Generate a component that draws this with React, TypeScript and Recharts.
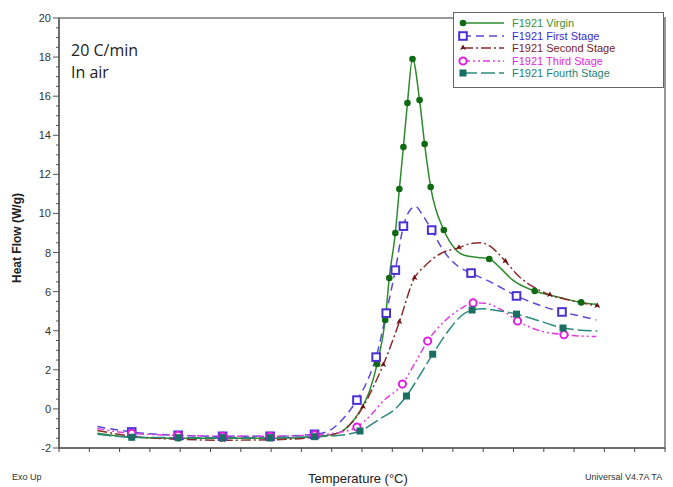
import React from 'react'
import { ComposedChart, Line, Scatter, XAxis, YAxis, ReferenceArea } from 'recharts'

// temperature (unlabelled axis, one tick every 30) vs heat flow (W/g)
const virginCurve = [
  [38, -1.25], [72, -1.45], [118, -1.5], [162, -1.5], [209, -1.5], [253, -1.42], [278, -1.2],
  [288, -0.8], [298, -0.1], [308, 1.0], [315, 2.3], [323, 4.55], [327, 6.7], [333, 9.0],
  [337, 11.25], [341, 13.4], [345, 15.65], [350, 17.9], [357, 15.8], [362, 13.55], [368, 11.35],
  [381, 9.15], [392, 8.2], [402, 7.85], [415, 7.75], [426, 7.67], [437, 7.2], [449, 6.6],
  [471, 6.03], [496, 5.7], [517, 5.45], [533, 5.35],
]
const virginMarks = [
  [72, -1.45], [118, -1.5], [162, -1.5], [209, -1.5], [253, -1.42], [315, 2.3], [323, 4.55],
  [327, 6.7], [333, 9.0], [337, 11.25], [341, 13.4], [345, 15.65], [350, 17.9], [357, 15.8],
  [362, 13.55], [368, 11.35], [381, 9.15], [426, 7.67], [471, 6.03], [517, 5.45],
]

const firstCurve = [
  [38, -0.9], [72, -1.18], [118, -1.35], [162, -1.4], [209, -1.4], [253, -1.3], [268, -1.1],
  [283, -0.4], [295, 0.45], [305, 1.4], [314, 2.65], [324, 4.9], [333, 7.1], [341, 9.35],
  [348, 10.2], [353, 10.35], [359, 10.0], [369, 9.15], [382, 8.0], [395, 7.3], [408, 6.95],
  [427, 6.5], [453, 5.78], [476, 5.3], [498, 4.96], [516, 4.75], [532, 4.55],
]
const firstMarks = [
  [72, -1.18], [118, -1.35], [162, -1.4], [209, -1.4], [253, -1.3], [295, 0.45], [314, 2.65],
  [324, 4.9], [333, 7.1], [341, 9.35], [369, 9.15], [408, 6.95], [453, 5.78], [498, 4.96],
]

const secondCurve = [
  [38, -1.1], [72, -1.4], [118, -1.55], [162, -1.6], [209, -1.58], [253, -1.45], [278, -1.2],
  [290, -0.7], [301, 0.1], [310, 1.0], [321, 2.25], [337, 4.45], [352, 6.7], [362, 7.3],
  [378, 7.95], [396, 8.25], [407, 8.45], [417, 8.5], [426, 8.35], [434, 8.0], [442, 7.55],
  [456, 6.75], [471, 6.2], [486, 5.83], [511, 5.5], [533, 5.27],
]
const secondMarks = [
  [72, -1.4], [118, -1.55], [162, -1.6], [209, -1.58], [253, -1.45], [301, 0.1], [321, 2.25],
  [337, 4.45], [352, 6.7], [396, 8.25], [442, 7.55], [486, 5.83], [533, 5.27],
]

const thirdCurve = [
  [38, -1.0], [72, -1.25], [118, -1.35], [162, -1.4], [209, -1.4], [253, -1.33], [278, -1.2],
  [295, -0.93], [308, -0.35], [321, 0.4], [340, 1.27], [352, 2.3], [365, 3.47], [382, 4.5],
  [397, 5.1], [410, 5.42], [422, 5.4], [437, 5.1], [454, 4.5], [476, 4.0], [500, 3.8], [532, 3.7],
]
const thirdMarks = [
  [72, -1.25], [118, -1.35], [162, -1.4], [209, -1.4], [253, -1.33], [295, -0.93], [340, 1.27],
  [365, 3.47], [410, 5.42], [454, 4.5], [500, 3.8],
]

const fourthCurve = [
  [38, -1.3], [72, -1.45], [118, -1.47], [162, -1.47], [209, -1.47], [253, -1.42], [278, -1.35],
  [298, -1.13], [318, -0.5], [333, 0.0], [344, 0.66], [357, 1.7], [370, 2.8], [387, 4.1],
  [397, 4.7], [409, 5.06], [420, 5.12], [432, 5.05], [453, 4.85], [476, 4.5], [499, 4.14], [533, 3.98],
]
const fourthMarks = [
  [72, -1.45], [118, -1.47], [162, -1.47], [209, -1.47], [253, -1.42], [298, -1.13], [344, 0.66],
  [370, 2.8], [409, 5.06], [453, 4.85], [499, 4.14],
]

const seriesNames = ['F1921 Virgin', 'F1921 First Stage', 'F1921 Second Stage', 'F1921 Third Stage', 'F1921 Fourth Stage']
const xTicks = [0, 30, 60, 90, 120, 150, 180, 210, 240, 270, 300, 330, 360, 390, 420, 450, 480, 510, 540, 570, 600]
const yLabels = [-2, 0, 2, 4, 6, 8, 10, 12, 14, 16, 18, 20]
const yTicks = yLabels.flatMap((v) => (v < 20 ? [v, v + 0.5, v + 1, v + 1.5] : [v]))

const toPts = (pairs: number[][]) => pairs.map(([t, v]) => ({ t, v }))

type Kind = 'dot' | 'openSquare' | 'star' | 'openCircle' | 'square'

const series = [
  { name: seriesNames[0], curve: virginCurve, marks: virginMarks, color: '#2e8a2e', mark: '#0f6a12', text: '#3f8f35', dash: undefined, kind: 'dot' as Kind },
  { name: seriesNames[1], curve: firstCurve, marks: firstMarks, color: '#5b4ad6', mark: '#4a32d2', text: '#3a2ccf', dash: '8 5', kind: 'openSquare' as Kind },
  { name: seriesNames[2], curve: secondCurve, marks: secondMarks, color: '#8a2c2c', mark: '#6e1414', text: '#7a2222', dash: '10 3 2 3', kind: 'star' as Kind },
  { name: seriesNames[3], curve: thirdCurve, marks: thirdMarks, color: '#e03ee0', mark: '#e020e0', text: '#e028e0', dash: '7 3 2 3 2 3', kind: 'openCircle' as Kind },
  { name: seriesNames[4], curve: fourthCurve, marks: fourthMarks, color: '#2c8a7c', mark: '#1a6e64', text: '#2a7f74', dash: '14 4', kind: 'square' as Kind },
]

function Marker({ cx, cy, kind, color }: { cx: number; cy: number; kind: Kind; color: string }) {
  if (cx == null || cy == null) return null
  if (kind === 'dot') return <circle cx={cx} cy={cy} r={3.3} fill={color} />
  if (kind === 'openSquare') return <rect x={cx - 3.8} y={cy - 3.8} width={7.6} height={7.6} fill="#fff" stroke={color} strokeWidth={2} />
  if (kind === 'openCircle') return <circle cx={cx} cy={cy} r={3.6} fill="#fff" stroke={color} strokeWidth={2} />
  if (kind === 'square') return <rect x={cx - 3.5} y={cy - 3.5} width={7} height={7} fill={color} />
  return <polygon points={`${cx},${cy - 3.5} ${cx + 3},${cy + 2} ${cx},${cy + 0.8} ${cx - 3},${cy + 2}`} fill={color} />
}

function YTick(props: any) {
  const { x, y, payload } = props
  const v = payload.value
  const major = Math.abs(v % 2) < 1e-6
  return (
    <g>
      <line x1={x - (major ? 6 : 3)} x2={x} y1={y} y2={y} stroke="#555" strokeWidth={1} />
      {major && (
        <text x={x - 8} y={y + 4} textAnchor="end" fontSize={11} fill="#333" fontFamily="Liberation Sans, Arial">
          {v}
        </text>
      )}
    </g>
  )
}

const overlay: React.CSSProperties = { position: 'absolute', fontFamily: 'Liberation Sans, Arial, sans-serif', whiteSpace: 'nowrap' }

export default function App() {
  return (
    <div style={{ position: 'absolute', left: 0, top: 0, width: 673, height: 487, overflow: 'hidden', background: '#fff' }}>
      <ComposedChart width={673} height={487} margin={{ top: 18, right: 8, left: 0, bottom: 29 }}>
        <ReferenceArea x1={0} x2={600} y1={-2} y2={20} fill="none" stroke="#777" strokeWidth={1.5} />
        <XAxis
          dataKey="t"
          type="number"
          domain={[0, 600]}
          ticks={xTicks}
          interval={0}
          height={10}
          tickSize={4}
          tickFormatter={() => ''}
          stroke="#444"
        />
        <YAxis
          type="number"
          domain={[-2, 20]}
          ticks={yTicks}
          interval={0}
          width={59}
          tickSize={0}
          tickMargin={0}
          tickLine={false}
          tick={<YTick />}
          stroke="#444"
          allowDataOverflow
        />
        {series.map((s) => (
          <Line
            key={s.name}
            data={toPts(s.curve)}
            dataKey="v"
            type="monotone"
            stroke={s.color}
            strokeWidth={1.5}
            strokeDasharray={s.dash}
            dot={false}
            activeDot={false}
            isAnimationActive={false}
          />
        ))}
        {series.map((s) => (
          <Scatter
            key={s.name + '-marks'}
            data={toPts(s.marks)}
            dataKey="v"
            isAnimationActive={false}
            shape={(p: any) => <Marker cx={p.cx} cy={p.cy} kind={s.kind} color={s.mark} />}
          />
        ))}
      </ComposedChart>

      {/* legend box */}
      <div style={{ ...overlay, left: 453, top: 12, width: 209, height: 74, border: '1.5px solid #666', background: '#fff' }}>
        {series.map((s, i) => (
          <div key={s.name} style={{ position: 'absolute', left: 0, top: 4 + i * 12.5, height: 12, display: 'flex', alignItems: 'center' }}>
            <svg width={56} height={12} style={{ display: 'block' }}>
              <line x1={9} x2={50} y1={6} y2={6} stroke={s.color} strokeWidth={1.6} strokeDasharray={s.dash} />
              <Marker cx={9} cy={6} kind={s.kind} color={s.mark} />
            </svg>
            <span style={{ fontSize: 11, color: s.text, marginLeft: 2 }}>{s.name}</span>
          </div>
        ))}
      </div>

      <div style={{ ...overlay, fontFamily: 'Open Sans, sans-serif', fontSize: 16, color: '#222', left: 71, top: 39, lineHeight: '22px' }}>
        20 C/min<br />In air
      </div>

      <div
        style={{
          ...overlay,
          fontSize: 12,
          fontWeight: 700,
          color: '#222',
          left: 17,
          top: 238,
          transform: 'translate(-50%, -50%) rotate(-90deg)',
        }}
      >
        Heat Flow (W/g)
      </div>

      <div style={{ ...overlay, fontSize: 9, color: '#333', left: 12, top: 472 }}>Exo Up</div>
      <div style={{ ...overlay, fontSize: 13, color: '#222', left: 308, top: 471 }}>Temperature (°C)</div>
      <div style={{ ...overlay, fontSize: 9, color: '#333', left: 585, top: 472 }}>Universal V4.7A TA</div>
    </div>
  )
}
